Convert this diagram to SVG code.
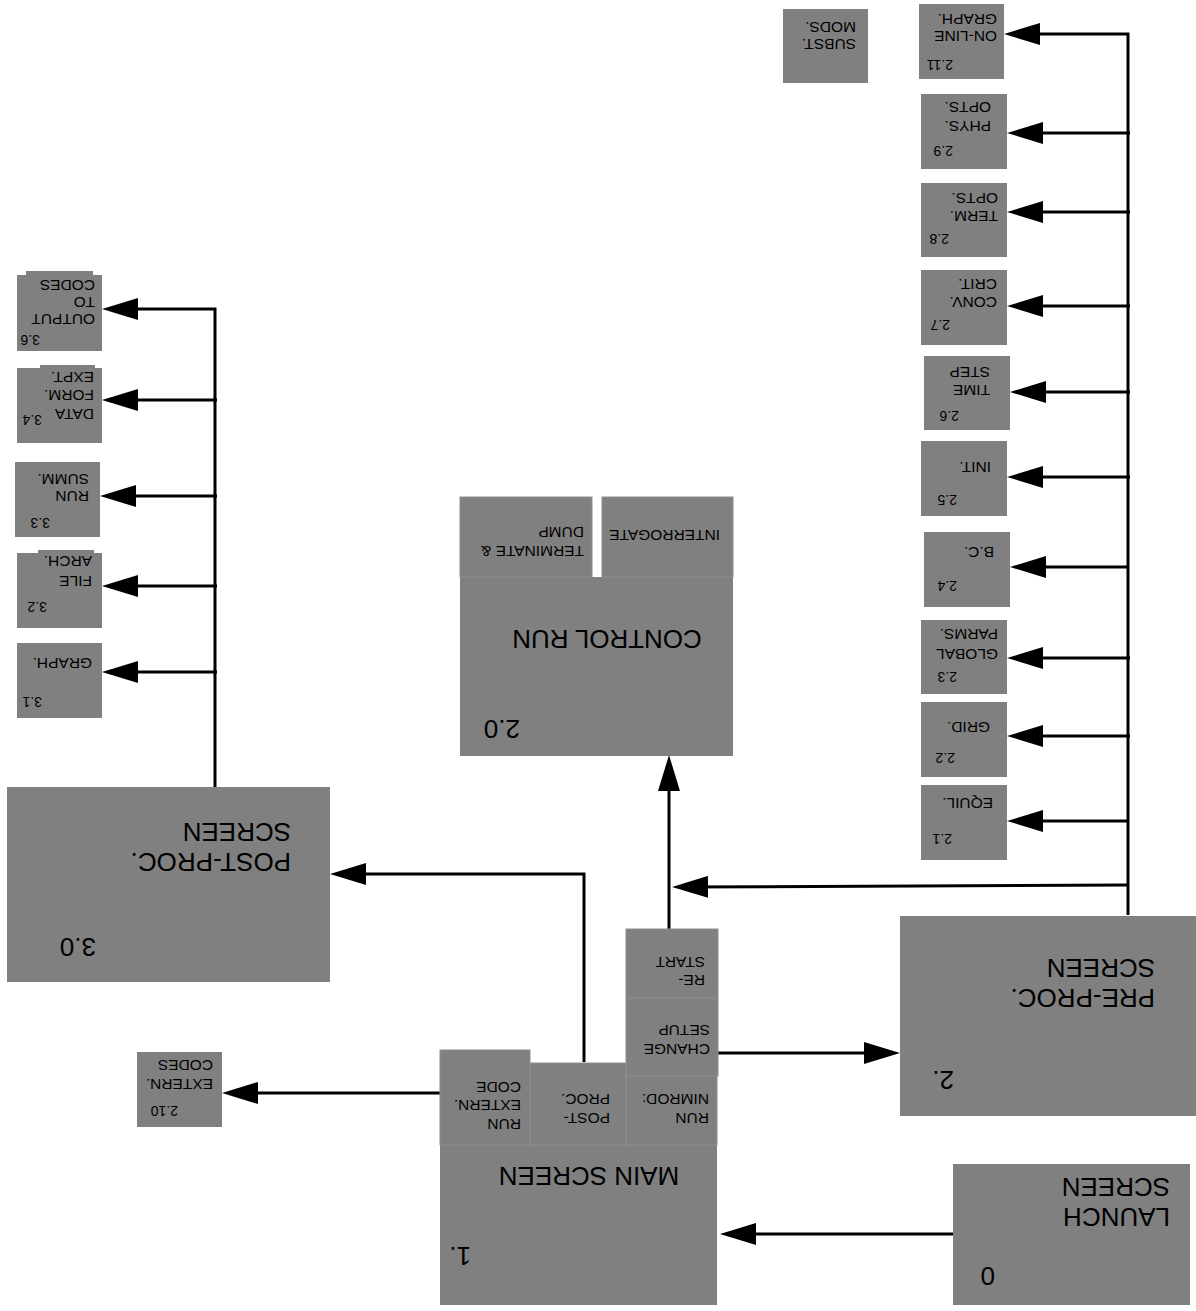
<svg xmlns="http://www.w3.org/2000/svg" width="1196" height="1311" viewBox="0 0 1196 1311">
<style>
text { font-family: "Liberation Sans", Arial, Helvetica, sans-serif; fill: #000; dominant-baseline: central; }
.s { font-size: 15.5px; }
.num { font-size: 14px; }
.b { font-size: 26px; }
.n { fill: #808080; }
.sub { fill: #808080; stroke: #8e8e8e; stroke-width: 1; }
.c { fill: none; stroke: #000; stroke-width: 3; }
.a { marker-end: url(#ah); }
</style>
<defs>
<marker id="ah" markerUnits="userSpaceOnUse" markerWidth="36" markerHeight="22" refX="26" refY="11" orient="auto">
<path d="M0,0 L36,11 L0,22 z" fill="#000"/>
</marker>
</defs>
<rect width="1196" height="1311" fill="#fff"/>

<g id="connectors">
<path class="c a" d="M953,1234 H730"/>
<path class="c a" d="M718,1053 H890"/>
<path class="c a" d="M440,1093 H232"/>
<path class="c a" d="M584,1062 V874 H340"/>
<path class="c a" d="M669,929 V765"/>
<path class="c a" d="M1128,915 V34 H1014"/>
<path class="c a" d="M1128,885 L682,887"/>
<path class="c a" d="M1130,133 H1017"/>
<path class="c a" d="M1130,212 H1017"/>
<path class="c a" d="M1130,306 H1017"/>
<path class="c a" d="M1130,392 H1020"/>
<path class="c a" d="M1130,477 H1017"/>
<path class="c a" d="M1128,567 H1020"/>
<path class="c a" d="M1130,658 H1017"/>
<path class="c a" d="M1130,736 H1017"/>
<path class="c a" d="M1128,821 H1017"/>
<path class="c a" d="M215,787 V309 H112"/>
<path class="c a" d="M217,400 H112"/>
<path class="c a" d="M217,496 H110"/>
<path class="c a" d="M217,586 H112"/>
<path class="c a" d="M217,672 H112"/>
</g>

<g id="n0">
<rect class="n" x="953" y="1164" width="237" height="141"/>
<text class="b" transform="translate(1170,1217) rotate(180)"><tspan x="0" y="0">LAUNCH</tspan><tspan x="0" y="30">SCREEN</tspan></text>
<text class="b" transform="translate(995,1276) rotate(180)">0</text>
</g>

<g id="n1">
<rect class="n" x="440" y="1145" width="277" height="160"/>
<rect class="sub" x="440" y="1050" width="90" height="95"/>
<rect class="sub" x="530" y="1063" width="96" height="82"/>
<rect class="sub" x="626" y="1075" width="91" height="70"/>
<text class="b" text-anchor="middle" transform="translate(589,1176) rotate(180)">MAIN SCREEN</text>
<text class="b" transform="translate(471,1256) rotate(180)">1.</text>
<text class="s" transform="translate(709,1119) rotate(180)"><tspan x="0" y="0">RUN</tspan><tspan x="0" y="19">NIMROD:</tspan></text>
<text class="s" transform="translate(610,1119) rotate(180)"><tspan x="0" y="0">POST-</tspan><tspan x="0" y="19">PROC.</tspan></text>
<text class="s" transform="translate(521,1125) rotate(180)"><tspan x="0" y="0">RUN</tspan><tspan x="0" y="19">EXTERN.</tspan><tspan x="0" y="37">CODE</tspan></text>
</g>

<g id="n1-change">
<rect class="sub" x="626" y="998" width="92" height="78"/>
<text class="s" transform="translate(710,1050) rotate(180)"><tspan x="0" y="0">CHANGE</tspan><tspan x="0" y="19">SETUP</tspan></text>
</g>

<g id="n1-restart">
<rect class="sub" x="626" y="929" width="92" height="69"/>
<text class="s" transform="translate(705,981) rotate(180)"><tspan x="0" y="0">RE-</tspan><tspan x="0" y="18">START</tspan></text>
</g>

<g id="n2">
<rect class="n" x="900" y="916" width="296" height="200"/>
<text class="b" transform="translate(1155,998) rotate(180)"><tspan x="0" y="0">PRE-PROC.</tspan><tspan x="0" y="30">SCREEN</tspan></text>
<text class="b" transform="translate(954,1080) rotate(180)">2.</text>
</g>

<g id="n3">
<rect class="n" x="7" y="787" width="323" height="195"/>
<text class="b" transform="translate(291,862) rotate(180)"><tspan x="0" y="0">POST-PROC.</tspan><tspan x="0" y="30">SCREEN</tspan></text>
<text class="b" transform="translate(96,947) rotate(180)">3.0</text>
</g>

<g id="n20">
<rect class="n" x="460" y="577" width="273" height="179"/>
<rect class="sub" x="460" y="497" width="132" height="80"/>
<rect class="sub" x="602" y="497" width="131" height="80"/>
<text class="b" text-anchor="middle" transform="translate(607,639) rotate(180)">CONTROL RUN</text>
<text class="b" transform="translate(520,729) rotate(180)">2.0</text>
<text class="s" transform="translate(720,535) rotate(180)">INTERROGATE</text>
<text class="s" transform="translate(584,552) rotate(180)"><tspan x="0" y="0">TERMINATE &amp;</tspan><tspan x="0" y="19">DUMP</tspan></text>
</g>

<g id="n210">
<rect class="n" x="137" y="1052" width="85" height="75"/>
<text class="s" transform="translate(213,1085) rotate(180)"><tspan x="0" y="0">EXTERN.</tspan><tspan x="0" y="19">CODES</tspan></text>
<text class="num" transform="translate(178,1111) rotate(180)">2.10</text>
</g>

<g id="subst">
<rect class="n" x="783" y="9" width="85" height="74"/>
<text class="s" transform="translate(856,45) rotate(180)"><tspan x="0" y="0">SUBST.</tspan><tspan x="0" y="17">MODS.</tspan></text>
</g>

<g id="n211">
<rect class="n" x="919" y="4" width="85" height="75"/>
<text class="s" transform="translate(997,37) rotate(180)"><tspan x="0" y="0">ON-LINE</tspan><tspan x="0" y="17">GRAPH.</tspan></text>
<text class="num" transform="translate(953,65) rotate(180)">2.11</text>
</g>

<g id="n29">
<rect class="n" x="921" y="94" width="86" height="75"/>
<text class="s" transform="translate(991,127) rotate(180)"><tspan x="0" y="0">PHYS.</tspan><tspan x="0" y="19">OPTS.</tspan></text>
<text class="num" transform="translate(953,151) rotate(180)">2.9</text>
</g>

<g id="n28">
<rect class="n" x="921" y="183" width="86" height="74"/>
<text class="s" transform="translate(998,217) rotate(180)"><tspan x="0" y="0">TERM.</tspan><tspan x="0" y="18">OPTS.</tspan></text>
<text class="num" transform="translate(949,239) rotate(180)">2.8</text>
</g>

<g id="n27">
<rect class="n" x="921" y="270" width="86" height="75"/>
<text class="s" transform="translate(997,303) rotate(180)"><tspan x="0" y="0">CONV.</tspan><tspan x="0" y="18">CRIT.</tspan></text>
<text class="num" transform="translate(950,325) rotate(180)">2.7</text>
</g>

<g id="n26">
<rect class="n" x="924" y="356" width="86" height="74"/>
<text class="s" transform="translate(990,391) rotate(180)"><tspan x="0" y="0">TIME</tspan><tspan x="0" y="18">STEP</tspan></text>
<text class="num" transform="translate(959,416) rotate(180)">2.6</text>
</g>

<g id="n25">
<rect class="n" x="921" y="441" width="86" height="75"/>
<text class="s" transform="translate(991,467) rotate(180)">INIT.</text>
<text class="num" transform="translate(957,500) rotate(180)">2.5</text>
</g>

<g id="n24">
<rect class="n" x="924" y="532" width="86" height="75"/>
<text class="s" transform="translate(994,552) rotate(180)">B.C.</text>
<text class="num" transform="translate(957,586) rotate(180)">2.4</text>
</g>

<g id="n23">
<rect class="n" x="921" y="620" width="86" height="74"/>
<text class="s" transform="translate(998,655) rotate(180)"><tspan x="0" y="0">GLOBAL</tspan><tspan x="0" y="20">PARMS.</tspan></text>
<text class="num" transform="translate(957,677) rotate(180)">2.3</text>
</g>

<g id="n22">
<rect class="n" x="921" y="702" width="86" height="75"/>
<text class="s" transform="translate(990,727) rotate(180)">GRID.</text>
<text class="num" transform="translate(955,758) rotate(180)">2.2</text>
</g>

<g id="n21">
<rect class="n" x="921" y="785" width="86" height="75"/>
<text class="s" transform="translate(993,803) rotate(180)">EQUIL.</text>
<text class="num" transform="translate(952,839) rotate(180)">2.1</text>
</g>

<g id="n36">
<rect class="n" x="26" y="271" width="67" height="6"/>
<rect class="n" x="17" y="275" width="85" height="76"/>
<text class="s" transform="translate(95,320) rotate(180)"><tspan x="0" y="0">OUTPUT</tspan><tspan x="0" y="17">TO</tspan><tspan x="0" y="34">CODES</tspan></text>
<text class="num" transform="translate(40,340) rotate(180)">3.6</text>
</g>

<g id="n34">
<rect class="n" x="40" y="365" width="55" height="6"/>
<rect class="n" x="17" y="368" width="85" height="75"/>
<text class="s" transform="translate(94,415) rotate(180)"><tspan x="0" y="0">DATA</tspan><tspan x="0" y="19">FORM.</tspan><tspan x="0" y="37">EXPT.</tspan></text>
<text class="num" transform="translate(42,420) rotate(180)">3.4</text>
</g>

<g id="n33">
<rect class="n" x="15" y="462" width="85" height="75"/>
<text class="s" transform="translate(89,497) rotate(180)"><tspan x="0" y="0">RUN</tspan><tspan x="0" y="17">SUMM.</tspan></text>
<text class="num" transform="translate(50,523) rotate(180)">3.3</text>
</g>

<g id="n32">
<rect class="n" x="38" y="550" width="56" height="6"/>
<rect class="n" x="17" y="553" width="85" height="75"/>
<text class="s" transform="translate(92,582) rotate(180)"><tspan x="0" y="0">FILE</tspan><tspan x="0" y="20">ARCH.</tspan></text>
<text class="num" transform="translate(47,607) rotate(180)">3.2</text>
</g>

<g id="n31">
<rect class="n" x="17" y="643" width="85" height="75"/>
<text class="s" transform="translate(92,663) rotate(180)">GRAPH.</text>
<text class="num" transform="translate(42,702) rotate(180)">3.1</text>
</g>
</svg>
